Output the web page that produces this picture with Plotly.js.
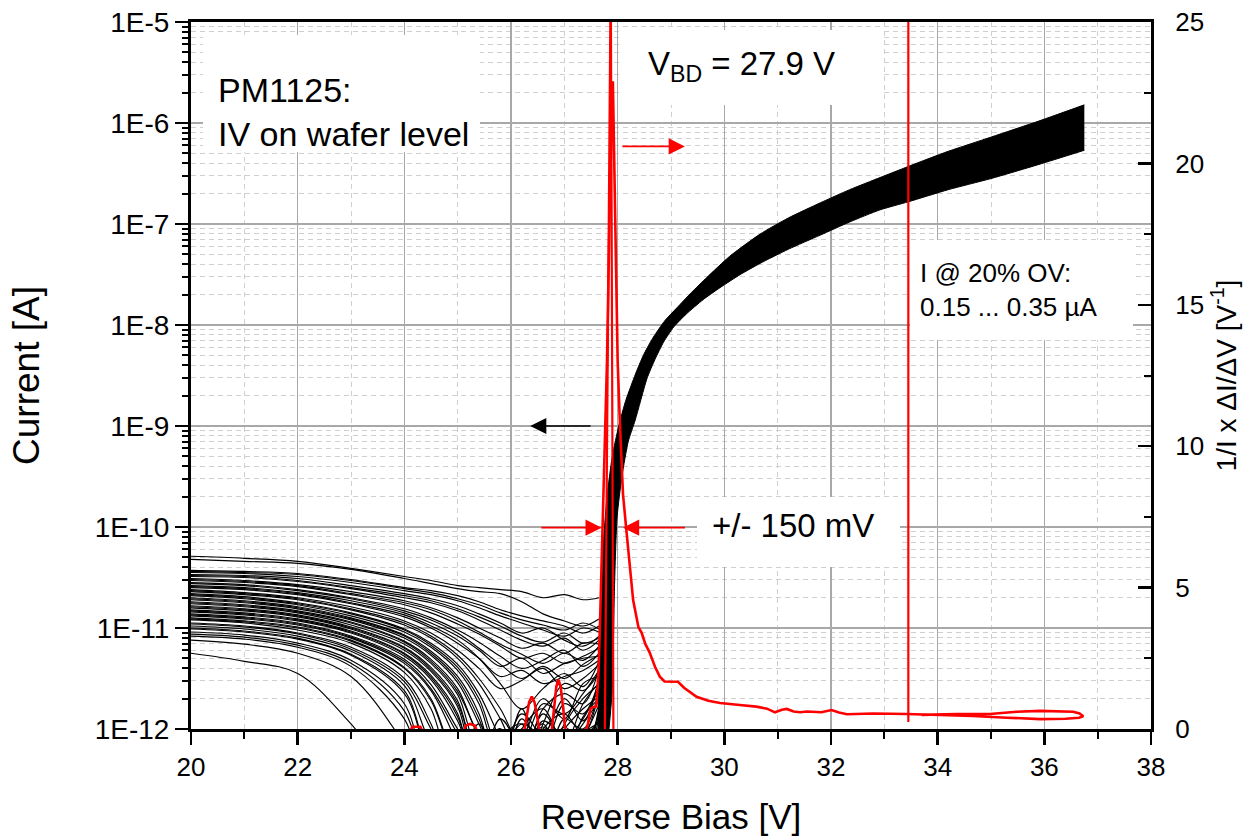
<!DOCTYPE html>
<html>
<head>
<meta charset="utf-8">
<script src="https://cdn.plot.ly/plotly-3.0.1.min.js"></script>
<style>html,body{margin:0;padding:0;background:#fff;}#chart{width:1247px;height:836px;}</style>
</head>
<body>
<div id="chart"></div>
<script>
// ---------- data ----------
// reverse bias grid of the low-bias (noise) part of the IV curves [V]
const V_LOW = [20, 21, 22, 23, 24, 24.5, 25, 25.4, 25.8, 26.2, 26.6, 27.0, 27.35, 27.65];
// log10(current [A]) of individual IV curves on V_LOW
const cA  = [-10.29,-10.31,-10.34,-10.41,-10.49,-10.53,-10.58,-10.60,-10.62,-10.64,-10.70,-10.67,-10.72,-10.70];
const cB  = [-10.32,-10.34,-10.36,-10.42,-10.51,-10.56,-10.61,-10.64,-10.66,-10.74,-10.86,-10.93,-10.98,-10.91];
const u01 = [-10.43,-10.44,-10.46,-10.52,-10.60,-10.63,-10.68,-10.74,-10.82,-10.88,-10.93,-10.98,-11.05,-10.98];
const u02 = [-10.45,-10.46,-10.49,-10.55,-10.63,-10.67,-10.73,-10.80,-10.88,-10.95,-11.02,-11.08,-11.00,-11.04];
const u03 = [-10.47,-10.48,-10.51,-10.58,-10.66,-10.71,-10.78,-10.86,-10.95,-11.05,-11.00,-11.12,-11.18,-11.08];
const u04 = [-10.49,-10.50,-10.54,-10.61,-10.70,-10.75,-10.83,-10.92,-11.02,-11.12,-11.18,-11.10,-11.22,-11.12];
const u05 = [-10.51,-10.53,-10.57,-10.64,-10.73,-10.80,-10.90,-11.00,-11.10,-11.20,-11.15,-11.25,-11.15,-11.16];
const u06 = [-10.53,-10.55,-10.59,-10.67,-10.77,-10.85,-10.96,-11.06,-11.18,-11.30,-11.25,-11.35,-11.28,-11.20];
const u07 = [-10.55,-10.57,-10.62,-10.70,-10.81,-10.90,-11.02,-11.14,-11.28,-11.40,-11.32,-11.22,-11.38,-11.25];
const u08 = [-10.58,-10.60,-10.65,-10.73,-10.85,-10.95,-11.08,-11.22,-11.38,-11.30,-11.45,-11.35,-11.30,-11.28];
const u09 = [-10.60,-10.62,-10.67,-10.76,-10.89,-11.00,-11.15,-11.30,-11.48,-11.42,-11.55,-11.48,-11.42,-11.32];
const u10 = [-10.62,-10.65,-10.70,-10.79,-10.93,-11.05,-11.22,-11.40,-11.60,-11.52,-11.40,-11.60,-11.50,-11.36];
const m01 = [-10.64,-10.67,-10.72,-10.82,-10.97,-11.10,-11.30,-11.55,-11.90,-12.30,-11.80,-11.65,-11.75,-11.40];
const m02 = [-10.66,-10.69,-10.75,-10.85,-11.01,-11.15,-11.36,-11.65,-12.10,-12.50,-11.95,-11.55,-11.62,-11.44];
const m03 = [-10.68,-10.71,-10.77,-10.88,-11.04,-11.19,-11.42,-11.75,-12.30,-12.10,-11.70,-11.90,-11.55,-11.48];
const m04 = [-10.70,-10.73,-10.79,-10.90,-11.07,-11.23,-11.48,-11.85,-12.50,-11.90,-12.20,-11.75,-11.85,-11.52];
const m05 = [-10.72,-10.75,-10.81,-10.92,-11.10,-11.27,-11.54,-11.95,-12.40,-11.80,-12.40,-11.95,-11.70,-11.56];
const m06 = [-10.74,-10.77,-10.83,-10.94,-11.13,-11.31,-11.60,-12.05,-12.20,-12.30,-11.85,-12.10,-11.90,-11.60];
const m07 = [-10.76,-10.79,-10.85,-10.97,-11.16,-11.35,-11.66,-12.20,-12.00,-12.50,-12.00,-11.85,-12.05,-11.64];
const m08 = [-10.78,-10.81,-10.87,-10.99,-11.19,-11.39,-11.72,-12.35,-11.90,-12.20,-12.30,-12.00,-11.80,-11.68];
const m09 = [-10.80,-10.83,-10.89,-11.01,-11.22,-11.43,-11.78,-12.50,-12.10,-11.95,-12.45,-12.20,-11.95,-11.72];
const m10 = [-10.82,-10.85,-10.91,-11.03,-11.25,-11.47,-11.85,-12.60,-12.30,-12.05,-12.15,-12.40,-12.10,-11.76];
const m11 = [-10.84,-10.87,-10.93,-11.05,-11.28,-11.51,-11.92,-12.45,-12.50,-12.20,-11.98,-12.25,-12.30,-11.80];
const m12 = [-10.86,-10.89,-10.95,-11.08,-11.31,-11.56,-12.00,-12.30,-12.60,-12.40,-12.10,-12.05,-12.20,-11.84];
const l01 = [-10.88,-10.91,-10.97,-11.10,-11.35,-11.62,-12.15,-12.60,-12.40,-12.50,-12.25,-12.15,-12.35,-11.88];
const l02 = [-10.90,-10.93,-10.99,-11.12,-11.39,-11.70,-12.35,-12.50,-12.20,-12.60,-12.40,-12.30,-12.10,-11.92];
const l03 = [-10.92,-10.95,-11.02,-11.15,-11.44,-11.80,-12.55,-12.30,-12.60,-12.35,-12.55,-12.20,-12.40,-11.96];
const l04 = [-10.95,-10.98,-11.05,-11.19,-11.50,-11.95,-12.60,-12.45,-12.30,-12.55,-12.30,-12.45,-12.25,-12.00];
const l05 = [-10.98,-11.01,-11.08,-11.23,-11.57,-12.15,-12.50,-12.60,-12.50,-12.40,-12.60,-12.35,-12.50,-12.04];
const l06 = [-11.01,-11.04,-11.11,-11.27,-11.65,-12.35,-12.60,-12.50,-12.60,-12.55,-12.45,-12.60,-12.40,-12.08];
const l07 = [-11.04,-11.07,-11.15,-11.32,-11.75,-12.55,-12.60,-12.60,-12.50,-12.60,-12.60,-12.50,-12.60,-12.12];
const l08 = [-11.08,-11.11,-11.19,-11.38,-11.90,-12.60,-12.60,-12.60,-12.60,-12.60,-12.60,-12.60,-12.60,-12.16];
const l09 = [-11.12,-11.16,-11.25,-11.48,-12.15,-12.60,-12.60,-12.60,-12.60,-12.60,-12.60,-12.60,-12.60,-12.20];
const l10 = [-11.25,-11.33,-11.45,-11.95,-12.60,-12.60,-12.60,-12.60,-12.60,-12.60,-12.60,-12.60,-12.60,-12.20];
const v01 = [-10.44,-10.45,-10.47,-10.53,-10.61,-10.65,-10.71,-10.77,-10.85,-10.92,-10.97,-11.02,-10.95,-11.01];
const v02 = [-10.48,-10.49,-10.53,-10.60,-10.68,-10.73,-10.81,-10.89,-10.98,-11.08,-11.14,-11.05,-11.15,-11.10];
const v03 = [-10.52,-10.54,-10.58,-10.66,-10.75,-10.82,-10.93,-11.04,-11.16,-11.26,-11.35,-11.25,-11.32,-11.18];
const v04 = [-10.56,-10.58,-10.63,-10.71,-10.83,-10.92,-11.05,-11.20,-11.36,-11.50,-11.38,-11.50,-11.36,-11.27];
const v05 = [-10.59,-10.61,-10.66,-10.75,-10.87,-10.98,-11.12,-11.30,-11.55,-11.80,-11.60,-11.45,-11.58,-11.33];
const v06 = [-10.63,-10.66,-10.71,-10.81,-10.95,-11.08,-11.27,-11.50,-11.80,-12.15,-11.75,-11.85,-11.65,-11.42];
const v07 = [-10.67,-10.70,-10.76,-10.86,-11.02,-11.17,-11.39,-11.70,-12.20,-11.95,-12.05,-11.70,-11.92,-11.50];
const v08 = [-10.71,-10.74,-10.80,-10.91,-11.08,-11.25,-11.51,-11.90,-12.45,-12.00,-11.80,-12.15,-11.75,-11.54];
const v09 = [-10.75,-10.78,-10.84,-10.95,-11.14,-11.33,-11.63,-12.10,-12.60,-12.15,-12.35,-11.90,-12.00,-11.62];
const v10 = [-10.79,-10.82,-10.88,-11.00,-11.20,-11.41,-11.75,-12.30,-12.25,-11.85,-12.10,-12.30,-11.88,-11.70];
const v11 = [-10.83,-10.86,-10.92,-11.04,-11.26,-11.49,-11.88,-12.50,-12.00,-12.35,-11.92,-12.10,-12.25,-11.78];
const v12 = [-10.87,-10.90,-10.96,-11.09,-11.33,-11.60,-12.05,-12.40,-12.60,-12.00,-12.30,-11.98,-12.15,-11.86];
const v13 = [-10.91,-10.94,-11.00,-11.13,-11.40,-11.72,-12.30,-12.10,-12.45,-12.25,-11.95,-12.40,-12.05,-11.94];
const v14 = [-10.96,-10.99,-11.06,-11.21,-11.53,-12.00,-12.45,-12.20,-12.00,-12.45,-12.20,-12.05,-12.35,-12.02];
const v15 = [-11.00,-11.03,-11.10,-11.26,-11.62,-12.25,-12.30,-11.95,-12.35,-12.10,-12.50,-12.25,-12.10,-12.06];
const v16 = [-11.06,-11.09,-11.17,-11.35,-11.82,-12.50,-12.10,-12.40,-12.20,-12.55,-12.00,-12.35,-12.45,-12.14];
const LOW_CURVES = [cA,cB,u01,u02,u03,u04,u05,u06,u07,u08,u09,u10,m01,m02,m03,m04,m05,m06,m07,m08,m09,m10,m11,m12,
  l01,l02,l03,l04,l05,l06,l07,l08,l09,l10,v01,v02,v03,v04,v05,v06,v07,v08,v09,v10,v11,v12,v13,v14,v15,v16];

// envelope of the dense bundle of IV curves above breakdown: log10(current [A])
const BAND_UP_V   = [27.63,27.66,27.69,27.74,27.80,27.90,28.02,28.15,28.36,28.50,28.67,28.88,29.11,29.38,29.67,30.10,30.67,31.20,31.80,32.35,32.92,33.45,34.20,35.00,35.90,36.75];
const BAND_UP_LOG = [-12.1,-11.3,-10.7,-10.1,-9.70,-9.30,-9.00,-8.75,-8.45,-8.28,-8.12,-7.96,-7.83,-7.68,-7.53,-7.32,-7.10,-6.94,-6.79,-6.66,-6.54,-6.43,-6.28,-6.14,-5.98,-5.82];
const BAND_LO_V   = [27.82,27.90,27.94,27.99,28.08,28.20,28.33,28.55,28.70,28.86,29.05,29.29,29.60,29.92,30.30,30.67,31.20,31.80,32.35,32.92,33.45,34.20,35.00,35.90,36.75];
const BAND_LO_LOG = [-12.1,-11.6,-10.6,-9.90,-9.50,-9.15,-8.94,-8.53,-8.34,-8.17,-8.02,-7.89,-7.75,-7.63,-7.50,-7.39,-7.25,-7.11,-6.98,-6.86,-6.78,-6.66,-6.55,-6.41,-6.27];

// 1/I x dI/dV [1/V] (right axis), sweep up and back
const DER_V = [20, 24.0, 24.15, 24.3, 24.45, 25.05, 25.15, 25.23, 25.32, 25.45,
  26.23, 26.29, 26.34, 26.39, 26.44, 26.49, 26.55,
  26.75, 26.80, 26.85, 26.89, 26.93, 26.98, 27.03,
  27.35, 27.44, 27.49, 27.55, 27.60, 27.64, 27.67, 27.70, 27.73, 27.80, 27.86, 27.91,
  27.94, 28.00, 28.04, 28.10, 28.17, 28.23, 28.29, 28.39, 28.45, 28.52, 28.60, 28.70, 28.79, 28.88, 28.98, 29.13, 29.25,
  29.48, 29.70, 29.92, 30.29, 30.60, 30.80, 30.95, 31.08, 31.17, 31.30, 31.42, 31.55, 31.67, 31.82, 32.01, 32.15, 32.30,
  32.79, 33.42, 34.05, 34.66, 35.30, 35.92, 36.40, 36.65, 36.73,
  36.66, 36.54, 36.20, 35.92, 35.48, 34.98, 34.36, 33.70];
const DER_Y = [-0.5, -0.5, 0.08, 0.08, -0.5, -0.5, 0.12, 0.18, 0.12, -0.5,
  -0.3, 0.45, 0.95, 1.15, 0.95, 0.45, -0.3,
  -0.3, 0.7, 1.5, 1.75, 1.5, 0.7, -0.3,
  -0.3, 0.15, 0.72, 0.78, 0.80, 2.0, 3.8, 5.7, 8.1, 13.0, 19.4, 22.9,
  19.4, 13.0, 10.9, 8.3, 6.9, 5.6, 4.56, 3.6, 3.4, 3.0, 2.7, 2.2, 1.85, 1.68, 1.67, 1.67, 1.45,
  1.14, 1.0, 0.92, 0.85, 0.79, 0.72, 0.59, 0.68, 0.71, 0.62, 0.59, 0.62, 0.61, 0.59, 0.67, 0.58, 0.52,
  0.55, 0.53, 0.50, 0.46, 0.40, 0.35, 0.36, 0.40, 0.45,
  0.55, 0.61, 0.64, 0.64, 0.61, 0.53, 0.53, 0.50];
// spikes of the derivative (run off the top of the chart)
const SPIKE1_V = [27.76, 27.87, 27.92];
const SPIKE1_Y = [0, 27, 0];
const SPIKE2_V = [33.45, 33.45];
const SPIKE2_Y = [0.25, 27];

// tick labels
const Y_TICKVALS = [1e-12, 1e-11, 1e-10, 1e-9, 1e-8, 1e-7, 1e-6, 1e-5];
const Y_TICKTEXT = ['1E-12', '1E-11', '1E-10', '1E-9', '1E-8', '1E-7', '1E-6', '1E-5'];

// ---------- build ----------
const toAmp = arr => arr.map(v => Math.pow(10, v));
const FONT = 'Liberation Sans, Arial, sans-serif';
const traces = [];
LOW_CURVES.forEach(c => traces.push({
  x: V_LOW, y: toAmp(c), type: 'scatter', mode: 'lines',
  line: {color: '#000', width: 1.15, shape: 'spline', smoothing: 1},
  hoverinfo: 'skip', showlegend: false
}));
// dense bundle: lower envelope, then upper envelope filled to it
traces.push({
  x: BAND_LO_V, y: toAmp(BAND_LO_LOG), type: 'scatter', mode: 'lines',
  line: {color: '#000', width: 1, shape: 'spline', smoothing: 0.6}, hoverinfo: 'skip', showlegend: false
});
traces.push({
  x: BAND_UP_V, y: toAmp(BAND_UP_LOG), type: 'scatter', mode: 'lines', fill: 'tonexty', fillcolor: '#000',
  line: {color: '#000', width: 1, shape: 'spline', smoothing: 0.6}, hoverinfo: 'skip', showlegend: false
});
traces.push({x: DER_V, y: DER_Y, yaxis: 'y2', type: 'scatter', mode: 'lines',
  line: {color: '#ff0000', width: 2.6}, showlegend: false});
traces.push({x: SPIKE1_V, y: SPIKE1_Y, yaxis: 'y2', type: 'scatter', mode: 'lines',
  line: {color: '#ff0000', width: 2.2}, showlegend: false});
traces.push({x: SPIKE2_V, y: SPIKE2_Y, yaxis: 'y2', type: 'scatter', mode: 'lines',
  line: {color: '#ff0000', width: 2.2}, showlegend: false});

const minorLog = [];
for (let d = -12; d < -5; d++) for (let m = 2; m <= 9; m++) minorLog.push(m * Math.pow(10, d));

const PX = (px) => (px - 191) / 960;
const PY = (py) => (729 - py) / 707;
// white label backgrounds (cover the grid, like the reference text boxes)
const box = (x0, x1, y0, y1) => ({xref: 'paper', yref: 'paper', x: PX(x0), y: PY(y0), xanchor: 'left', yanchor: 'top',
  width: x1 - x0, height: y1 - y0, text: ' ', showarrow: false, bgcolor: '#fff', borderpad: 0, borderwidth: 0});
const arrow = (xref, yref, x, y, ax, ay, color, w, s) => ({xref: xref, yref: yref, axref: xref, ayref: yref,
  x: x, y: y, ax: ax, ay: ay, text: '', showarrow: true, arrowhead: 2, arrowsize: s, arrowwidth: w,
  arrowcolor: color, standoff: 0, startstandoff: 0});

const layout = {
  width: 1247, height: 836,
  margin: {l: 191, r: 96, t: 22, b: 107},
  paper_bgcolor: '#fff', plot_bgcolor: '#fff',
  font: {family: FONT, color: '#000'},
  showlegend: false,
  xaxis: {
    range: [20, 38], tick0: 20, dtick: 2, ticks: 'outside', ticklen: 13, tickwidth: 2.5, tickcolor: '#000',
    showline: true, linewidth: 3, linecolor: '#000', mirror: true, zeroline: false,
    showgrid: true, gridcolor: '#a8a8a8', gridwidth: 1.5,
    tickfont: {size: 26, family: FONT},
    title: {text: 'Reverse Bias [V]', font: {size: 35, family: FONT}},
    minor: {dtick: 1, ticks: 'outside', ticklen: 7, tickwidth: 2, tickcolor: '#000',
      showgrid: true, gridcolor: '#cfcfcf', gridwidth: 1, griddash: '5px,4px'}
  },
  yaxis: {
    type: 'log', range: [-12, -5], tickmode: 'array', tickvals: Y_TICKVALS, ticktext: Y_TICKTEXT,
    ticks: 'outside', ticklen: 13, tickwidth: 2.5, tickcolor: '#000',
    showline: true, linewidth: 3, linecolor: '#000', zeroline: false,
    showgrid: true, gridcolor: '#a8a8a8', gridwidth: 1.5,
    tickfont: {size: 28, family: FONT},
    title: {text: 'Current [A]', font: {size: 37, family: FONT}, standoff: 44},
    minor: {tickmode: 'array', tickvals: minorLog, ticks: 'outside', ticklen: 6, tickwidth: 2, tickcolor: '#000',
      showgrid: true, gridcolor: '#cfcfcf', gridwidth: 1, griddash: '5px,4px'}
  },
  yaxis2: {
    overlaying: 'y', side: 'right', range: [0, 25], tick0: 0, dtick: 5,
    ticks: 'inside', ticklen: 13, tickwidth: 2.5, tickcolor: '#000',
    showline: true, linewidth: 3, linecolor: '#000', zeroline: false, showgrid: false,
    tickfont: {size: 26, family: FONT}, ticklabelstandoff: 16,
    title: {text: '1/I x \u0394I/\u0394V [V<sup>-1</sup>]', font: {size: 28, family: FONT}},
    minor: {dtick: 2.5, ticks: 'inside', ticklen: 7, tickwidth: 2, tickcolor: '#000', showgrid: false}
  },
  annotations: [
    box(203, 480, 35, 152),
    box(619, 882, 30, 105),
    box(910, 1133, 240, 340),
    box(697, 900, 497, 567),
    {xref: 'paper', yref: 'paper', x: PX(216), y: PY(112), xanchor: 'left', yanchor: 'middle', align: 'left',
      text: 'PM1125:<br>IV on wafer level', showarrow: false, font: {size: 34, family: FONT}},
    {xref: 'paper', yref: 'paper', x: PX(741), y: PY(66), xanchor: 'center', yanchor: 'middle',
      text: 'V<sub>BD</sub> = 27.9 V', showarrow: false, font: {size: 33, family: FONT}},
    {xref: 'paper', yref: 'paper', x: PX(918), y: PY(290), xanchor: 'left', yanchor: 'middle', align: 'left',
      text: 'I @ 20% OV:<br>0.15 ... 0.35 \u00b5A', showarrow: false, font: {size: 26, family: FONT}},
    {xref: 'paper', yref: 'paper', x: PX(793), y: PY(525), xanchor: 'center', yanchor: 'middle',
      text: '+/- 150 mV', showarrow: false, font: {size: 33, family: FONT}},
    arrow('x', 'y', 26.36, -9.0, 27.52, -9.0, '#000', 1.4, 2.3),
    arrow('x', 'y2', 29.26, 20.6, 28.06, 20.6, '#ff0000', 1.8, 1.8),
    arrow('x', 'y2', 27.70, 7.12, 26.54, 7.12, '#ff0000', 1.8, 1.8),
    arrow('x', 'y2', 28.10, 7.12, 29.29, 7.12, '#ff0000', 1.8, 1.8)
  ]
};

Plotly.newPlot('chart', traces, layout, {displayModeBar: false, staticPlot: true});
</script>
</body>
</html>
